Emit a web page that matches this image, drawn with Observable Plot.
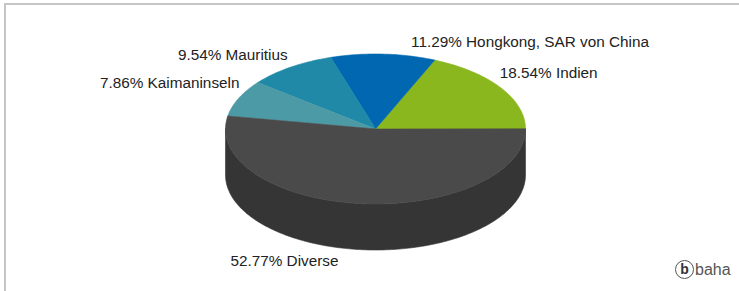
<!DOCTYPE html>
<html>
<head>
<meta charset="utf-8">
<script src="https://cdn.jsdelivr.net/npm/d3@7"></script>
<script src="https://cdn.jsdelivr.net/npm/@observablehq/plot@0.6"></script>
<style>
html,body{margin:0;padding:0;background:#fff;}
#wrap{position:relative;width:739px;height:291px;overflow:hidden;font-family:"Liberation Sans",Arial,sans-serif;}
#frame{position:absolute;left:4px;top:3px;right:-10px;bottom:-10px;border-top:2px solid #c6c6c6;border-left:2px solid #c6c6c6;}
#chart{position:absolute;left:0;top:0;}
#logo{position:absolute;left:675px;top:260px;font-size:16px;color:#555;line-height:19px;white-space:nowrap;}
#logo .c{display:inline-block;box-sizing:border-box;width:19px;height:19px;border:1.5px solid #555;border-radius:50%;text-align:center;font-weight:bold;font-size:14px;line-height:16px;color:#333;margin-right:1px;vertical-align:top;}
</style>
</head>
<body>
<div id="wrap">
  <div id="frame"></div>
  <div id="chart"></div>
  <div id="logo"><span class="c">b</span>baha</div>
</div>
<script>
// ---- data ----
const categories = ["Indien", "Hongkong, SAR von China", "Mauritius", "Kaimaninseln", "Diverse"];
const shares = [18.54, 11.29, 9.54, 7.86, 52.77];
const palette = ["#8ab61e", "#0067b0", "#1f89a7", "#4b9aa6", "#4a4a4a"];

// ---- layout (pie geometry) ----
const W = 739, H = 291;
const cx = 375, cy = 128.5, rx = 150, ry = 75, depth = 46;

const total = d3.sum(shares);
let acc = 0;
const slices = categories.map((name, i) => {
  const a0 = acc / total * 2 * Math.PI;
  acc += shares[i];
  const a1 = acc / total * 2 * Math.PI;
  return {name, value: shares[i], a0, a1, mid: (a0 + a1) / 2};
});

const ell = (a, dy) => [cx + rx * Math.cos(a), cy + dy - ry * Math.sin(a)];
function arcPts(a0, a1, dy) {
  const n = Math.max(2, Math.ceil((a1 - a0) / (Math.PI / 180)));
  return d3.range(n + 1).map(k => ell(a0 + (a1 - a0) * k / n, dy));
}

const tops = slices.flatMap(s =>
  [[cx, cy], ...arcPts(s.a0, s.a1, 0)].map(([x, y]) => ({x, y, key: s.name}))
);
const sides = slices.flatMap(s => {
  const b0 = Math.max(s.a0, Math.PI), b1 = Math.min(s.a1, 2 * Math.PI);
  if (b1 <= b0) return [];
  const pts = [...arcPts(b0, b1, 0), ...arcPts(b0, b1, depth).reverse()];
  return pts.map(([x, y]) => ({x, y, key: s.name + " (Seite)"}));
});

// label placement: vertical offset from the slice's mid angle,
// horizontal offset from the label ellipse at that height
const fmt = d3.format(".2f");
const labelA = 151, labelB = 88, labelPad = 7;
const labels = slices.map(s => {
  const c = Math.cos(s.mid), sn = Math.sin(s.mid);
  const right = c >= 0;
  const dy = 69 * Math.abs(sn) + 17.5;
  const y = sn >= 0 ? cy - dy : cy + depth + dy;
  const xoff = labelA * Math.sqrt(Math.max(0, 1 - (dy / labelB) ** 2)) + labelPad;
  const x = cx + (right ? 1 : -1) * xoff;
  return {x, y, right, text: `${fmt(s.value)}% ${s.name}`};
});

const colorDomain = [...categories, ...categories.map(c => c + " (Seite)")];
const colorRange = [...palette, ...palette.map(c => d3.color(c).darker(0.95).formatHex())];

const chart = Plot.plot({
  width: W,
  height: H,
  margin: 0,
  style: {fontFamily: "'Liberation Sans', Arial, sans-serif", background: "transparent"},
  x: {domain: [0, W], range: [0, W], axis: null},
  y: {domain: [0, H], range: [0, H], axis: null},
  color: {domain: colorDomain, range: colorRange},
  marks: [
    Plot.line(sides, {x: "x", y: "y", z: "key", fill: "key", stroke: "key", strokeWidth: 0.6, curve: "linear-closed"}),
    Plot.line(tops, {x: "x", y: "y", z: "key", fill: "key", stroke: "key", strokeWidth: 0.6, curve: "linear-closed"}),
    Plot.text(labels.filter(d => d.right), {x: "x", y: "y", text: "text", textAnchor: "start", fill: "#222", fontSize: 15.3}),
    Plot.text(labels.filter(d => !d.right), {x: "x", y: "y", text: "text", textAnchor: "end", fill: "#222", fontSize: 15.3})
  ]
});
document.getElementById("chart").appendChild(chart);
</script>
</body>
</html>
